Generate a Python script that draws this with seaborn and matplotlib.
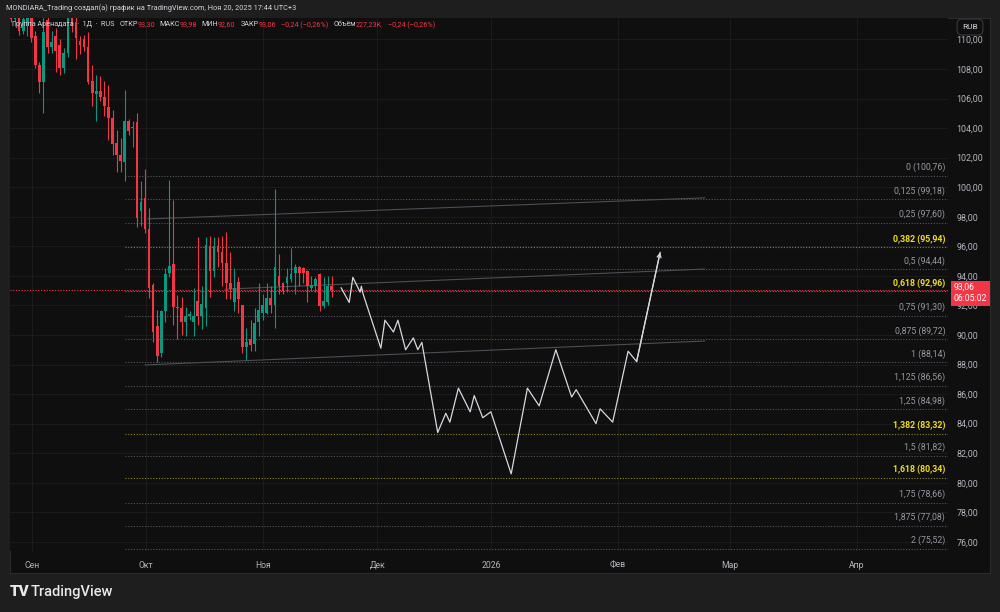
import matplotlib
matplotlib.use("Agg")
import numpy as np
import pandas as pd
import seaborn as sns
import matplotlib.pyplot as plt
from matplotlib.patches import Rectangle
from matplotlib import font_manager

# --- свечи (индекс бара = позиция в списке) ---
opens = [112.8, 111.4, 112.0, 110.6, 110.9, 111.6, 110.2, 108.3, 107.1, 111.3,
         109.5, 110.2, 109.6, 108.1, 109.1, 111.8, 111.2, 109.9, 110.0, 109.5,
         107.2, 106.3, 106.5, 106.1, 105.4, 104.7, 103.0, 102.2, 101.7, 104.5,
         104.0, 104.4, 98.4, 99.3, 97.2, 93.4, 90.6, 88.8, 91.6, 94.2,
         94.8, 91.9, 91.8, 90.9, 91.3, 90.9, 92.3, 91.3, 91.8, 96.0,
         94.3, 96.0, 95.6, 94.9, 93.5, 92.2, 93.6, 92.0, 89.2, 89.7,
         89.4, 90.9, 91.5, 91.5, 92.5, 92.0, 94.0, 93.5, 93.5, 93.8,
         94.2, 94.6, 94.5, 94.3, 93.2, 93.3, 94.1, 91.96, 92.2, 93.30]
highs = [113.2, 113.0, 112.4, 112.5, 112.6, 112.0, 110.6, 108.5, 111.6, 112.0,
         110.6, 110.8, 110.0, 109.4, 112.3, 112.4, 111.6, 110.2, 110.3, 110.5,
         108.3, 107.6, 107.5, 107.2, 106.9, 105.2, 103.9, 103.3, 106.6, 104.6,
         104.5, 105.0, 100.4, 101.2, 98.6, 93.5, 91.7, 91.7, 94.5, 100.5,
         99.1, 92.7, 92.6, 91.9, 91.6, 93.2, 96.6, 93.3, 96.6, 96.7,
         96.6, 96.6, 96.7, 97.0, 95.6, 94.5, 93.9, 92.0, 90.5, 91.0,
         91.8, 93.5, 92.8, 93.5, 93.3, 99.9, 95.5, 93.6, 94.5, 95.9,
         94.8, 94.7, 94.6, 94.4, 94.0, 93.9, 94.2, 93.9, 94.0, 93.98]
lows = [111.2, 110.9, 110.3, 110.4, 110.2, 109.8, 108.1, 106.4, 105.0, 109.1,
        109.1, 107.8, 107.6, 107.7, 108.8, 110.5, 108.7, 109.0, 109.2, 107.0,
        105.5, 104.5, 105.8, 104.8, 103.2, 102.2, 101.0, 101.0, 100.4, 103.5,
        102.7, 97.3, 97.4, 96.9, 92.5, 89.5, 88.2, 88.5, 90.9, 93.9,
        90.7, 89.7, 90.0, 89.9, 91.0, 89.9, 90.7, 90.4, 90.6, 92.6,
        93.9, 94.6, 93.3, 92.4, 92.4, 91.6, 91.5, 88.8, 88.3, 88.9,
        88.9, 89.9, 91.0, 91.4, 91.5, 90.5, 92.8, 92.8, 92.9, 93.6,
        92.8, 93.3, 93.5, 92.2, 93.0, 92.9, 91.6, 91.8, 92.0, 92.60]
closes = [111.4, 112.5, 110.6, 111.4, 111.8, 110.1, 108.3, 107.1, 110.5, 109.5,
          109.8, 109.2, 108.1, 109.1, 111.6, 110.9, 110.1, 109.6, 109.5, 107.1,
          106.4, 106.5, 106.1, 105.5, 104.7, 102.9, 102.2, 101.8, 104.5, 103.8,
          104.1, 97.9, 99.0, 97.2, 93.2, 90.2, 88.6, 91.6, 94.1, 94.7,
          91.9, 91.8, 90.9, 91.3, 91.4, 91.3, 91.3, 92.1, 96.1, 94.3,
          96.0, 95.6, 94.9, 93.5, 93.1, 93.2, 92.4, 89.2, 89.5, 89.3,
          90.8, 91.7, 92.0, 92.5, 92.0, 94.6, 93.3, 93.0, 93.9, 94.1,
          94.6, 94.2, 94.2, 93.3, 93.4, 93.8, 91.96, 92.3, 93.3, 93.06]

# прогнозная траектория (бар, цена)
path_bar = [81.3, 83.3, 84.2, 86.0, 86.3, 86.7, 91.1, 92.1, 94.2, 95.3, 97.2,
            99.1, 100.2, 101.2, 105.1, 107.1, 108.1, 110.2, 113.1, 114.1, 116.2,
            118.2, 123.2, 127.2, 130.1, 134.2, 138.1, 139.2, 144.1, 145.1, 148.2,
            152.0, 154.1, 159.9]
path_price = [93.2, 92.2, 93.9, 92.9, 93.3, 92.8, 89.1, 91.0, 90.2, 91.0, 89.0,
              89.8, 89.0, 89.5, 83.4, 84.7, 84.1, 86.4, 84.8, 85.9, 84.4,
              84.8, 80.6, 86.4, 85.2, 89.0, 85.8, 86.3, 84.0, 85.0, 84.1,
              88.9, 88.2, 95.6]

# трендовые линии: (бар0, цена0, бар1, цена1)
trend_lines = [(33.7, 97.85, 170.9, 99.28),
               (52.7, 93.10, 170.9, 94.46),
               (33.0, 87.97, 170.9, 89.59)]

# уровни Фибоначчи
fib_ratio = ["0", "0,125", "0,25", "0,382", "0,5", "0,618", "0,75", "0,875", "1",
             "1,125", "1,25", "1,382", "1,5", "1,618", "1,75", "1,875", "2"]
fib_price = [100.76, 99.18, 97.60, 95.94, 94.44, 92.96, 91.30, 89.72, 88.14,
             86.56, 84.98, 83.32, 81.82, 80.34, 78.66, 77.08, 75.52]
fib_key = ["0,382", "0,618", "1,382", "1,618"]
fib_start = 28

month_names = ["Сен", "Окт", "Ноя", "Дек", "2026", "Фев", "Мар", "Апр"]
month_pos = [5.2, 33.3, 62.1, 90.2, 118.2, 149.5, 177.1, 208.4]
last_price = 93.06

GREEN = "#089981"
RED = "#f23645"
BG = "#0f0f0f"
TXT = "#b2b5be"

sns.set_theme(style="dark", rc={"axes.facecolor": BG, "figure.facecolor": "#1e1e1e",
                                "grid.color": "#1b1b1b", "grid.linewidth": 0.8})
installed = {f.name for f in font_manager.fontManager.ttflist}
narrow = "Liberation Sans Narrow" if "Liberation Sans Narrow" in installed else "Roboto"
plt.rcParams["font.family"] = ["Roboto", "DejaVu Sans"]
NARROW = [narrow, "DejaVu Sans"]

fig = plt.figure(figsize=(10, 6.12), dpi=100)
fig.patches.append(Rectangle((10 / 1000, 1 - 573 / 612), 980 / 1000, 555 / 612,
                             transform=fig.transFigure, fc=BG, ec="#2b2b2b",
                             lw=0.8, zorder=-1))
ax = fig.add_axes([0.010, 1 - 551 / 612, 0.938, 533 / 612])
ax.set_facecolor(BG)

df = pd.DataFrame({"o": opens, "h": highs, "l": lows, "c": closes})
df["i"] = np.arange(len(df))
cols = np.where(df.c >= df.o, GREEN, RED)

ax.vlines(df.i, df.l, df.h, colors=cols, lw=0.8, zorder=3)
ax.bar(df.i, (df.c - df.o).abs().clip(lower=0.08), bottom=df[["o", "c"]].min(axis=1),
       width=0.66, color=cols, lw=0, zorder=4)

xmax = 230.8
# фибо
for r, p in zip(fib_ratio, fib_price):
    key = r in fib_key
    ax.plot([fib_start, xmax], [p, p], ls=(0, (1, 1.5)), lw=0.8,
            color="#8a852a" if key else "#55585f", zorder=1)
    ax.annotate(f"{r} ({p:.2f})".replace(".", ","), xy=(1, p),
                xycoords=("axes fraction", "data"), xytext=(-2, 2.5),
                textcoords="offset points", ha="right", va="bottom", fontsize=6.3,
                family=NARROW, color="#f2dc1c" if key else "#9598a1",
                fontweight="bold" if key else "normal", annotation_clip=False)

for x0, y0, x1, y1 in trend_lines:
    ax.plot([x0, x1], [y0, y1], color="#4c4e56", lw=0.8, zorder=2)

ax.axhline(last_price, color=RED, ls=(0, (1, 1.5)), lw=0.8, zorder=2)

sns.lineplot(x=path_bar, y=path_price, sort=False, estimator=None, color="#d6d8de",
             lw=0.9, ax=ax, zorder=5)
ax.annotate("", xy=(path_bar[-1], path_price[-1]), xytext=(path_bar[-2], path_price[-2]),
            arrowprops=dict(arrowstyle="->", color="#d6d8de", lw=0.9,
                            shrinkA=0, shrinkB=0, mutation_scale=7), zorder=5)

ax.set_xlim(-0.25, xmax)
ax.set_ylim(75.38, 111.45)
ax.set_xticks(month_pos)
ax.set_xticklabels(month_names)
yt = np.arange(76, 111, 2)
ax.set_yticks(yt)
ax.set_yticklabels([f"{v:.2f}".replace(".", ",") for v in yt])
ax.yaxis.tick_right()
ax.tick_params(axis="y", length=0, pad=6, labelsize=6.4, labelcolor=TXT)
ax.tick_params(axis="x", length=0, pad=7, labelsize=6.2, labelcolor=TXT)
for lab in ax.get_xticklabels() + ax.get_yticklabels():
    lab.set_family(NARROW)
ax.grid(True)
for s in ax.spines.values():
    s.set_visible(False)
ax.set_xlabel("")
ax.set_ylabel("")

# метка текущей цены
ax.annotate("93,06\n06:05:02", xy=(1, last_price), xycoords=("axes fraction", "data"),
            xytext=(4, -2.5), textcoords="offset points", ha="left", va="center",
            fontsize=6.2, family=NARROW, color="white", linespacing=1.3,
            annotation_clip=False,
            bbox=dict(boxstyle="square,pad=0.3", fc=RED, ec="none"))

fig.text(0.970, 1 - 27 / 612, "RUB", ha="center", va="center", fontsize=6,
         family=NARROW, color="#d1d4dc",
         bbox=dict(boxstyle="round,pad=0.6", fc=BG, ec="#3a3a3a", lw=0.8))

renderer = fig.canvas.get_renderer()


def fit(t, width_px):
    w = t.get_window_extent(renderer).width
    t.set_fontsize(t.get_fontsize() * width_px / w)


title = fig.text(0.006, 1 - 8 / 612, "MONDIARA_Trading создал(а) график на TradingView.com, "
                 "Ноя 20, 2025 17:44 UTC+3", fontsize=6.5, family=NARROW,
                 color="#d1d4dc", va="center")
fit(title, 290)

# строка легенды
pieces = [("Группа Аренадата  ·  1Д  ·  RUS", "#d1d4dc"), ("ОТКР", "#d1d4dc"),
          ("93,30", RED), ("МАКС", "#d1d4dc"), ("93,98", RED), ("МИН", "#d1d4dc"),
          ("92,60", RED), ("ЗАКР", "#d1d4dc"), ("93,06", RED), ("−0,24 (−0,26%)", RED),
          ("Объём", "#d1d4dc"), ("227,23K", RED), ("−0,24 (−0,26%)", RED)]
gaps = [0, 5, 0, 4, 0, 4, 0, 5, 0, 5, 5, 0, 6]


def draw_legend(fs):
    xp, out = 12, []
    for (txt, col), g in zip(pieces, gaps):
        xp += g
        t = fig.text(xp / 1000, 1 - 25 / 612, txt, fontsize=fs, family=NARROW,
                     color=col, va="center")
        xp += t.get_window_extent(renderer).width
        out.append(t)
    return xp, out


end, texts = draw_legend(6.5)
for t in texts:
    t.remove()
draw_legend(6.5 * (437 - 12 - sum(gaps)) / (end - 12 - sum(gaps)))

fig.text(0.010, 1 - 592 / 612, "TV", fontsize=11, fontweight="black", color="#e8e8e8",
         va="center")
fig.text(0.031, 1 - 592 / 612, "TradingView", fontsize=10.5, color="#e8e8e8",
         va="center", fontweight="medium")

fig.savefig("out.png", dpi=100, facecolor=fig.get_facecolor())
